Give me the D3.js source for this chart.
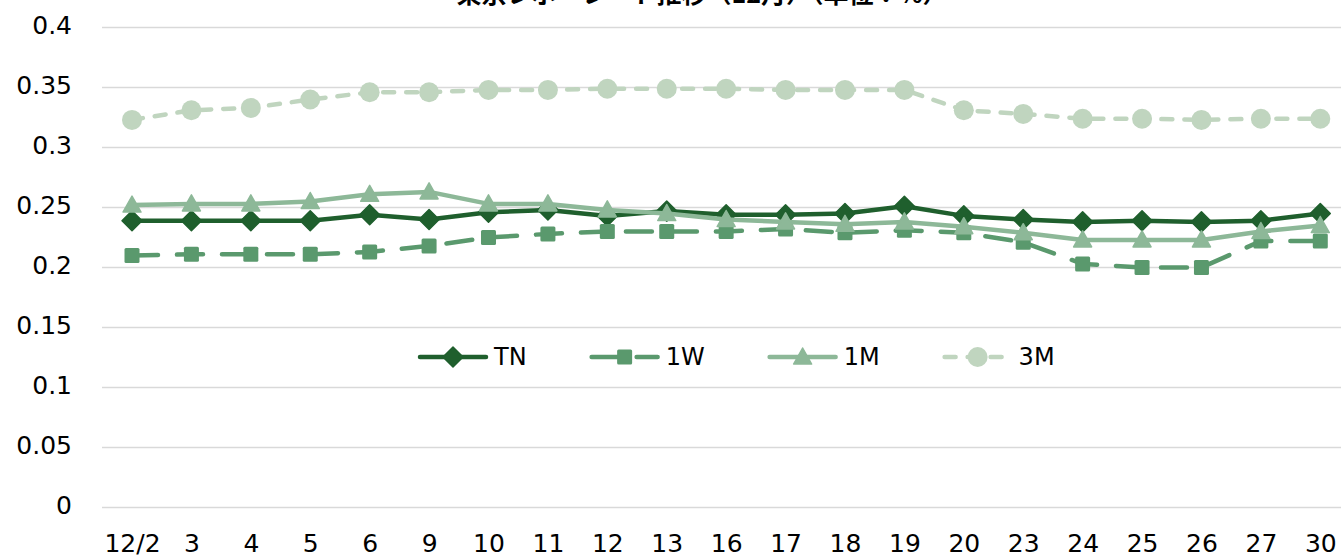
<!DOCTYPE html>
<html>
<head>
<meta charset="utf-8">
<script src="https://cdn.jsdelivr.net/npm/d3@7/dist/d3.min.js"></script>
<style>
  html, body { margin: 0; padding: 0; background: #fff; overflow: hidden; }
  svg { display: block; }
</style>
</head>
<body>
<svg id="chart" width="1341" height="559"></svg>
<script>
const title = "東京レポ・レート推移（12月）（単位：%）";
const categories = ["12/2","3","4","5","6","9","10","11","12","13","16","17","18","19","20","23","24","25","26","27","30"];
const seriesNames = ["TN","1W","1M","3M"];
const valuesTN = [0.239,0.239,0.239,0.239,0.244,0.240,0.246,0.248,0.243,0.247,0.244,0.244,0.245,0.251,0.243,0.240,0.238,0.239,0.238,0.239,0.245];
const values1W = [0.210,0.211,0.211,0.211,0.213,0.218,0.225,0.228,0.230,0.230,0.230,0.232,0.229,0.231,0.229,0.221,0.203,0.200,0.200,0.222,0.222];
const values1M = [0.252,0.253,0.253,0.255,0.261,0.263,0.253,0.253,0.248,0.245,0.240,0.238,0.236,0.238,0.234,0.229,0.223,0.223,0.223,0.230,0.235];
const values3M = [0.323,0.331,0.333,0.340,0.346,0.346,0.348,0.348,0.349,0.349,0.349,0.348,0.348,0.348,0.331,0.328,0.324,0.324,0.323,0.324,0.324];
const yTicks = [0,0.05,0.1,0.15,0.2,0.25,0.3,0.35,0.4];
const yTickLabels = ["0","0.05","0.1","0.15","0.2","0.25","0.3","0.35","0.4"];

const seriesValues = [valuesTN, values1W, values1M, values3M];
const styles = [
  {color:"#1f5f2d", dash:null, marker:"diamond"},
  {color:"#5a996d", dash:"26,19", marker:"square"},
  {color:"#8db898", dash:null, marker:"triangle"},
  {color:"#c0d5bf", dash:"11,12", marker:"circle"}
];

const svg = d3.select("#chart");
const font = "'DejaVu Sans', Verdana, sans-serif";

const x = d3.scalePoint().domain(categories).range([102.3, 1350]).padding(0.5);
const y = d3.scaleLinear().domain([0, 0.4]).range([507.5, 27.5]);

// title (clipped at top, as in reference)
svg.append("text")
  .attr("x", 702).attr("y", 3)
  .attr("text-anchor", "middle")
  .attr("font-family", "'Noto Sans CJK JP', sans-serif")
  .attr("font-weight", "bold")
  .attr("font-size", 25)
  .attr("fill", "#000")
  .text(title);

// gridlines
svg.append("g").selectAll("line").data(yTicks).join("line")
  .attr("x1", 102).attr("x2", 1350)
  .attr("y1", d => y(d)).attr("y2", d => y(d))
  .attr("stroke", "#d9d9d9").attr("stroke-width", 1.6);

// y axis labels
const yAxis = d3.axisLeft(y).tickValues(yTicks).tickFormat((d,i) => yTickLabels[i]).tickSize(0).tickPadding(0);
const gy = svg.append("g").attr("transform", "translate(72,-2)").call(yAxis);
gy.select(".domain").remove();
gy.selectAll("text").attr("font-family", font).attr("font-size", 25).attr("fill", "#000");

// x axis labels
const xAxis = d3.axisBottom(x).tickSize(0).tickPadding(0);
const gx = svg.append("g").attr("transform", "translate(0,534)").call(xAxis);
gx.select(".domain").remove();
gx.selectAll("text").attr("font-family", font).attr("font-size", 25).attr("fill", "#000");

function drawMarker(g, type, color) {
  if (type === "diamond") {
    g.append("path").attr("d", "M0,-10 L10,0 L0,10 L-10,0 Z").attr("fill", color).attr("stroke", color).attr("stroke-width", 1.5).attr("stroke-linejoin","round");
  } else if (type === "square") {
    g.append("rect").attr("x", -7.5).attr("y", -7.5).attr("width", 15).attr("height", 15).attr("rx", 1.5).attr("fill", color);
  } else if (type === "triangle") {
    g.append("path").attr("d", "M0,-9 L9,7 L-9,7 Z").attr("fill", color).attr("stroke", color).attr("stroke-width", 1.5).attr("stroke-linejoin","round");
  } else {
    g.append("circle").attr("r", 10).attr("fill", color);
  }
}

const line = d3.line().x((d,i) => x(categories[i])).y(d => y(d));

seriesValues.forEach((vals, si) => {
  const st = styles[si];
  const g = svg.append("g");
  g.append("path").datum(vals)
    .attr("d", line)
    .attr("fill", "none")
    .attr("stroke", st.color)
    .attr("stroke-width", 4.5)
    .attr("stroke-linejoin", "round")
    .attr("stroke-linecap", "round")
    .attr("stroke-dasharray", st.dash);
  vals.forEach((v, i) => {
    const mg = g.append("g").attr("transform", `translate(${x(categories[i])},${y(v)})`);
    drawMarker(mg, st.marker, st.color);
  });
});

// legend
const legendY = 357;
let lx = 418;
seriesNames.forEach((name, si) => {
  const st = styles[si];
  const g = svg.append("g");
  g.append("line")
    .attr("x1", lx + 2).attr("x2", lx + 68)
    .attr("y1", legendY).attr("y2", legendY)
    .attr("stroke", st.color).attr("stroke-width", 4.5)
    .attr("stroke-linecap", "round")
    .attr("stroke-dasharray", st.dash);
  const mg = g.append("g").attr("transform", `translate(${lx + 35},${legendY})`);
  drawMarker(mg, st.marker, st.color);
  const t = g.append("text")
    .attr("x", lx + 76).attr("y", legendY)
    .attr("dy", "0.35em")
    .attr("font-family", font).attr("font-size", 24).attr("fill", "#000")
    .text(name);
  lx = lx + 76 + t.node().getComputedTextLength() + 63;
});
</script>
</body>
</html>
